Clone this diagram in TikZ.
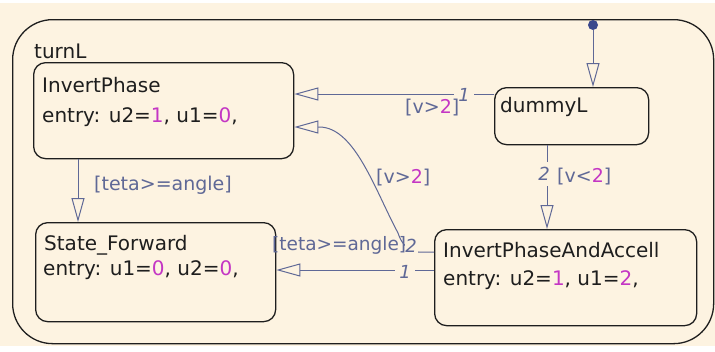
\documentclass[tikz,border=0pt]{standalone}
\usepackage{fontspec}
\setmainfont{DejaVu Sans}
\usetikzlibrary{arrows.meta,calc}
\definecolor{paper}{RGB}{253,243,225}
\definecolor{edge}{RGB}{30,30,30}
\definecolor{trans}{RGB}{95,104,150}
\definecolor{num}{RGB}{196,54,196}
\definecolor{dotc}{RGB}{58,72,140}
\newcommand{\nm}[1]{\textcolor{num}{#1}}

\begin{document}
\begin{tikzpicture}[x=1pt,y=-1pt,
  chart/.style={draw=edge, line width=1.3pt, rounded corners=40pt, anchor=north west, inner sep=0pt},
  statebox/.style={draw=edge, line width=1.3pt, rounded corners=12pt, anchor=north west, inner sep=0pt},
  stext/.style={anchor=base west, inner sep=0pt, text=edge, font=\fontsize{20}{24}\selectfont},
  tr/.style={draw=trans, line width=1pt, -{Triangle[open, length=24pt, width=13pt]}},
  glabel/.style={anchor=base west, inner sep=0pt, text=trans, font=\fontsize{19}{22}\selectfont},
  order/.style={fill=paper, inner sep=0pt, text=trans, minimum width=20pt, font=\fontsize{18}{20}\itshape\selectfont}
]
\useasboundingbox (0,0) rectangle (715,351);
\fill[white] (0,0) rectangle (715,351);
\fill[paper] (0,3) rectangle (715,346);

% superstate
\node[chart, minimum width=701pt, minimum height=324pt] (turnL) at (12,19) {};
\node[stext] (turnLname) at (34,58) {turnL};

% substates
\node[statebox, minimum width=260pt, minimum height=96pt] (ip) at (33,62) {};
\node[stext] (ipname) at (42,92) {InvertPhase};
\node[stext] (ipentry) at (42,122) {entry: u2=\nm{1}, u1=\nm{0},};

\node[statebox, minimum width=240pt, minimum height=99pt] (sf) at (35,222) {};
\node[stext] (sfname) at (44,250) {State\_Forward};
\node[stext] (sfentry) at (43,275) {entry: u1=\nm{0}, u2=\nm{0},};

\node[statebox, minimum width=154pt, minimum height=57pt] (dl) at (494,87) {};
\node[stext] (dlname) at (500,112) {dummyL};

\node[statebox, minimum width=262pt, minimum height=96pt] (ipa) at (434,229) {};
\node[stext] (ipaname) at (443,257) {InvertPhaseAndAccell};
\node[stext] (ipaentry) at (443,285) {entry: u2=\nm{1}, u1=\nm{2},};

% default transition
\node[circle, fill=dotc, minimum size=10pt, inner sep=0pt] (init) at (593,25) {};
\draw[tr] (init) -- (init |- dl.north);

% dummyL -> InvertPhase
\draw[tr] ($(dl.north west)+(0,7)$) -- ($(ip.north east)+(0,32)$);
\node[order] (o1) at (464,95) {1};
\node[glabel] (g1) at (405,113) {[v>\nm{2}]};

% dummyL -> InvertPhaseAndAccell
\draw[tr] ($(dl.south west)+(53,0)$) -- ($(ipa.north west)+(113,0)$);
\node[order, minimum height=24pt] (o2) at (544,174) {2};
\node[glabel] (g2) at (557,182) {[v<\nm{2}]};

% InvertPhaseAndAccell -> InvertPhase
\draw[tr] ($(ipa.north west)+(0,23)$) -- (418,252)
  .. controls (406,250) and (401,242) .. (398,233)
  .. controls (375,190) and (355,128) .. (320,127)
  -- ($(ip.north east)+(0,65)$);
\node[glabel] (g3) at (376,183) {[v>\nm{2}]};

% InvertPhaseAndAccell -> State_Forward
\draw[tr] ($(ipa.north west)+(0,41)$) -- ($(sf.north east)+(0,48)$);
\node[glabel, font=\fontsize{18.5}{22}\selectfont] (g4) at (272,250) {[teta>=angle]};
\node[order, minimum width=13pt] (o3) at (411,246) {2};
\node[order] (o4) at (405,272) {1};

% InvertPhase -> State_Forward
\draw[tr] ($(ip.south west)+(45,0)$) -- ($(sf.north west)+(43,0)$);
\node[glabel] (g5) at (94,190) {[teta>=angle]};
\end{tikzpicture}
\end{document}
